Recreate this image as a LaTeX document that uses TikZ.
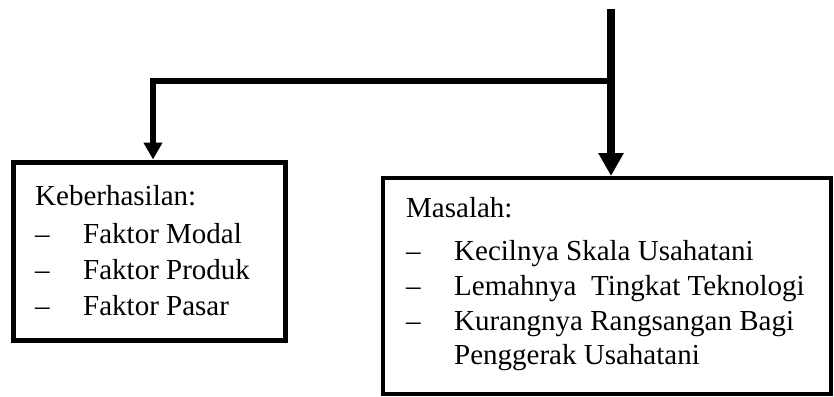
\documentclass[tikz,border=0pt]{standalone}
\usepackage{fontspec}
\setmainfont{Liberation Serif}
\usetikzlibrary{arrows.meta}
\tikzset{
  box/.style={draw, rectangle, inner sep=0pt},
  txt/.style={anchor=base west, inner sep=0pt, font=\fontsize{29}{35}\selectfont},
}
\newcommand{\itm}[1]{\makebox[48pt][l]{--}#1}

\begin{document}
\begin{tikzpicture}[x=1pt, y=-1pt]
  \useasboundingbox (0,0) rectangle (834,396);

  \node[coordinate] (top) at (611,9) {};
  \node[coordinate] (split) at (611,81) {};
  \node[coordinate] (corner) at (153,81) {};

  % boxes
  \node[box, line width=5pt, minimum width=272pt, minimum height=178pt] (keb) at (149,251) {};
  \node[box, line width=4pt, minimum width=448pt, minimum height=216pt] (mas) at (607,286) {};

  \node[txt] (kebTitle) at (35,205) {Keberhasilan:};
  \node[txt] (kebModal) at (35,243) {\itm{Faktor Modal}};
  \node[txt] (kebProduk) at (35,279) {\itm{Faktor Produk}};
  \node[txt] (kebPasar) at (35,315) {\itm{Faktor Pasar}};

  \node[txt] (masTitle) at (406,217) {Masalah:};
  \node[txt] (masSkala) at (406,260) {\itm{Kecilnya Skala Usahatani}};
  \node[txt] (masTek) at (406,295) {\itm{Lemahnya~~Tingkat Teknologi}};
  \node[txt] (masRang) at (406,330) {\itm{Kurangnya Rangsangan Bagi}};
  \node[txt] (masGerak) at (454,364) {Penggerak Usahatani};

  % arrows
  \draw[line width=6pt, line join=miter, -{Triangle[length=17pt,width=18pt]}] (split) -- (corner) -- (corner |- keb.north);
  \draw[line width=8pt, -{Triangle[length=23pt,width=24pt]}] (top) -- (top |- mas.north);

\end{tikzpicture}
\end{document}
